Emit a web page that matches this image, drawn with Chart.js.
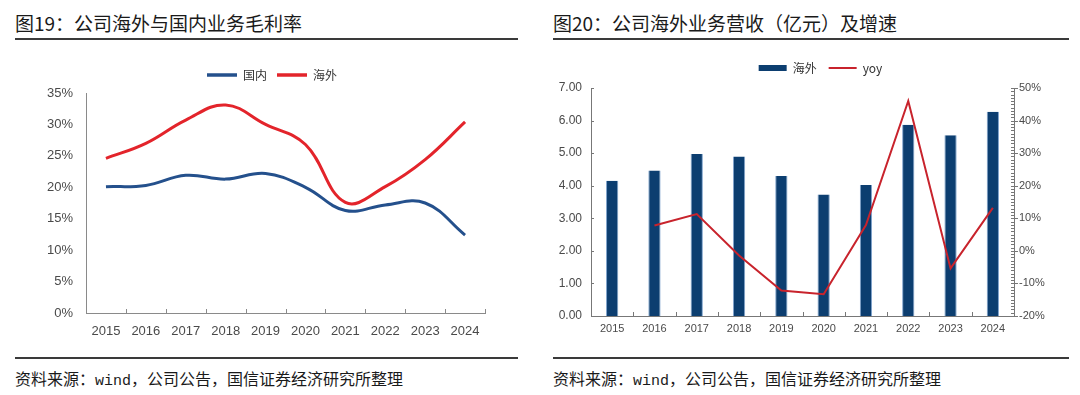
<!DOCTYPE html>
<html>
<head>
<meta charset="utf-8">
<script src="https://cdn.jsdelivr.net/npm/chart.js@4.4.1/dist/chart.umd.min.js"></script>
<style>
  html,body{margin:0;padding:0;background:#fff;}
  body{width:1080px;height:395px;position:relative;overflow:hidden;font-family:"Noto Sans CJK SC","Noto Sans",sans-serif;}
  .title{position:absolute;top:11px;font-size:19px;line-height:24px;color:#1a1a1a;white-space:nowrap;font-weight:400;}
  .rule{position:absolute;height:1.5px;background:#3a3a3a;}
  .src{position:absolute;top:368px;font-size:16px;line-height:20px;color:#1a1a1a;white-space:nowrap;}
  .src .m{font-family:"Liberation Mono","DejaVu Sans Mono",monospace;font-size:15px;}
  .box{position:absolute;}
</style>
</head>
<body>
<div class="title" style="left:15px;">图19：公司海外与国内业务毛利率</div>
<div class="rule" style="left:15px;top:38px;width:503px;"></div>
<div class="title" style="left:553px;">图20：公司海外业务营收（亿元）及增速</div>
<div class="rule" style="left:553px;top:38px;width:516px;"></div>

<div class="box" style="left:15px;top:59px;width:505px;height:291px;"><canvas id="c1"></canvas></div>
<div class="box" style="left:553px;top:50px;width:517px;height:300px;"><canvas id="c2"></canvas></div>

<div class="rule" style="left:15px;top:357px;width:503px;"></div>
<div class="rule" style="left:553px;top:357px;width:516px;"></div>
<div class="src" style="left:15px;">资料来源：<span class="m">wind</span>，公司公告，国信证券经济研究所整理</div>
<div class="src" style="left:553px;">资料来源：<span class="m">wind</span>，公司公告，国信证券经济研究所整理</div>

<script>
// ---------- data ----------
const years = ['2015','2016','2017','2018','2019','2020','2021','2022','2023','2024'];
// Chart 19: gross margin (%)
const marginDomestic = [20.1, 20.3, 21.9, 21.3, 22.2, 20.0, 16.3, 17.2, 17.5, 12.4];
const marginOverseas = [24.6, 27.0, 30.7, 33.1, 30.0, 26.8, 17.6, 20.1, 24.4, 30.4];
// Chart 20: overseas revenue (亿元) and yoy (%)
const overseasRevenue = [4.15, 4.47, 4.97, 4.90, 4.30, 3.73, 4.02, 5.87, 5.55, 6.27];
const overseasYoy = [null, 7.8, 11.3, -1.4, -12.2, -13.3, 7.9, 46.0, -5.4, 13.2];
const leftTicks = [0, 5, 10, 15, 20, 25, 30, 35];
const revTicks = [0, 1, 2, 3, 4, 5, 6, 7];
const yoyTicks = [-20, -10, 0, 10, 20, 30, 40, 50];

// ---------- styles ----------
const BLUE = '#24508c';
const RED = '#e3242b';
const NAVY = '#0c3e70';
const RED2 = '#c8232c';
const AXIS = '#8a8a8a';
const TXT = '#4a4a4a';
const tickFont = {family: "'Liberation Sans', Arial, sans-serif"};
const noGrid = {display: false, drawTicks: false, tickLength: 0};

// fixes legend box height and shifts it horizontally
const legendHeight = {
  id: 'legendHeight',
  beforeInit(chart, args, opts) {
    const lg = chart.legend;
    const fit = lg.fit;
    lg.fit = function () { fit.call(lg); this.height = opts.h; };
    const draw = lg.draw;
    lg.draw = function () {
      const ctx = chart.ctx;
      ctx.save();
      ctx.translate(opts.dx || 0, 0);
      draw.call(lg);
      ctx.restore();
    };
  }
};

const innerTicks = {
  id: 'innerTicks',
  afterDraw(chart, args, o) {
    const ctx = chart.ctx;
    const x = chart.scales.x;
    ctx.save();
    ctx.strokeStyle = o.color;
    ctx.lineWidth = 1;
    ctx.beginPath();
    const n = x.ticks.length;
    for (let i = 1; i <= n; i++) {
      const px = Math.round(x.getPixelForValue(i - 0.5)) + 0.5;
      ctx.moveTo(px, x.top);
      ctx.lineTo(px, x.top - o.len);
    }
    if (o.yTicks && chart.scales.y) {
      const y = chart.scales.y;
      y.ticks.forEach(t => {
        const py = Math.round(y.getPixelForValue(t.value)) + 0.5;
        ctx.moveTo(y.right, py);
        ctx.lineTo(y.right + 3, py);
      });
    }
    if (o.y1Ticks && chart.scales.y1) {
      const y1 = chart.scales.y1;
      for (let v = y1.min; v <= y1.max; v += 1) {
        const py = Math.round(y1.getPixelForValue(v)) + 0.5;
        ctx.moveTo(y1.left - 3, py);
        ctx.lineTo(v % 10 === 0 ? y1.left + 4 : y1.left, py);
      }
    }
    ctx.stroke();
    ctx.restore();
  }
};

function legendItems(styleFor) {
  return function (chart) {
    return Chart.defaults.plugins.legend.labels.generateLabels(chart)
      .sort((a, b) => a.datasetIndex - b.datasetIndex)
      .map(it => Object.assign(it, styleFor(it.datasetIndex)));
  };
}

// ---------- chart 19 ----------
new Chart(document.getElementById('c1'), {
  type: 'line',
  data: {
    labels: years,
    datasets: [
      {label: '国内', data: marginDomestic, borderColor: BLUE, backgroundColor: BLUE, borderWidth: 3, pointRadius: 0, tension: 0.4},
      {label: '海外', data: marginOverseas, borderColor: RED, backgroundColor: RED, borderWidth: 3, pointRadius: 0, tension: 0.4}
    ]
  },
  options: {
    responsive: true, maintainAspectRatio: false, animation: false,
    layout: {padding: {right: 35, top: 0, bottom: 0, left: 0}},
    plugins: {
      tooltip: {enabled: false},
      legendHeight: {h: 34, dx: 22},
      innerTicks: {color: AXIS, len: 4},
      legend: {
        position: 'top',
        labels: {
          usePointStyle: true, pointStyleWidth: 30, padding: 10, color: '#333',
          font: {family: "'Noto Sans CJK SC', sans-serif", size: 12},
          generateLabels: legendItems(i => ({pointStyle: 'line', lineWidth: 3.5, strokeStyle: i === 0 ? BLUE : RED}))
        }
      }
    },
    scales: {
      x: {
        offset: true,
        grid: noGrid,
        border: {display: true, color: AXIS, width: 1},
        ticks: {color: TXT, font: {...tickFont, size: 13}, padding: 11, maxRotation: 0},
        afterFit(s) { s.height = 37; }
      },
      y: {
        min: 0, max: 35,
        afterBuildTicks(s) { s.ticks = leftTicks.map(v => ({value: v})); },
        grid: noGrid,
        border: {display: true, color: AXIS, width: 1},
        ticks: {color: TXT, font: {...tickFont, size: 13}, padding: 13, callback: v => v + '%'},
        afterFit(s) { s.width = 71; }
      }
    }
  },
  plugins: [legendHeight, innerTicks]
});

// ---------- chart 20 ----------
new Chart(document.getElementById('c2'), {
  data: {
    labels: years,
    datasets: [
      {type: 'bar', label: '海外', data: overseasRevenue, backgroundColor: NAVY, borderColor: '#7fa3cc', borderWidth: {left: 1, right: 1, top: 0, bottom: 0},
       categoryPercentage: 1, barPercentage: 0.29, yAxisID: 'y', order: 2},
      {type: 'line', label: 'yoy', data: overseasYoy, borderColor: RED2, backgroundColor: RED2, borderWidth: 2, pointRadius: 0, tension: 0, yAxisID: 'y1', order: 1, spanGaps: false}
    ]
  },
  options: {
    responsive: true, maintainAspectRatio: false, animation: false,
    layout: {padding: 0},
    plugins: {
      tooltip: {enabled: false},
      legendHeight: {h: 38, dx: 9},
      innerTicks: {color: '#777', len: 4, yTicks: true, y1Ticks: true},
      legend: {
        position: 'top',
        labels: {
          usePointStyle: true, pointStyleWidth: 28, padding: 12, color: '#333',
          font: {family: "'Noto Sans CJK SC', sans-serif", size: 12},
          generateLabels: legendItems(i => ({pointStyle: 'line', lineWidth: i === 0 ? 6 : 2, strokeStyle: i === 0 ? NAVY : RED2}))
        }
      }
    },
    scales: {
      x: {
        offset: true,
        grid: noGrid,
        border: {display: true, color: '#777', width: 1},
        ticks: {color: TXT, font: {...tickFont, size: 11}, padding: 6, maxRotation: 0},
        afterFit(s) { s.height = 34; }
      },
      y: {
        position: 'left', min: 0, max: 7,
        afterBuildTicks(s) { s.ticks = revTicks.map(v => ({value: v})); },
        grid: noGrid,
        border: {display: true, color: '#777', width: 1},
        ticks: {color: TXT, font: {...tickFont, size: 12}, padding: 9, callback: v => Number(v).toFixed(2)},
        afterFit(s) { s.width = 38; }
      },
      y1: {
        position: 'right', min: -20, max: 50,
        afterBuildTicks(s) { s.ticks = yoyTicks.map(v => ({value: v})); },
        grid: noGrid,
        border: {display: true, color: '#777', width: 1},
        ticks: {color: TXT, font: {...tickFont, size: 11}, padding: 5, callback: v => v + '%'},
        afterFit(s) { s.width = 56; }
      }
    }
  },
  plugins: [legendHeight, innerTicks]
});
</script>
</body>
</html>
